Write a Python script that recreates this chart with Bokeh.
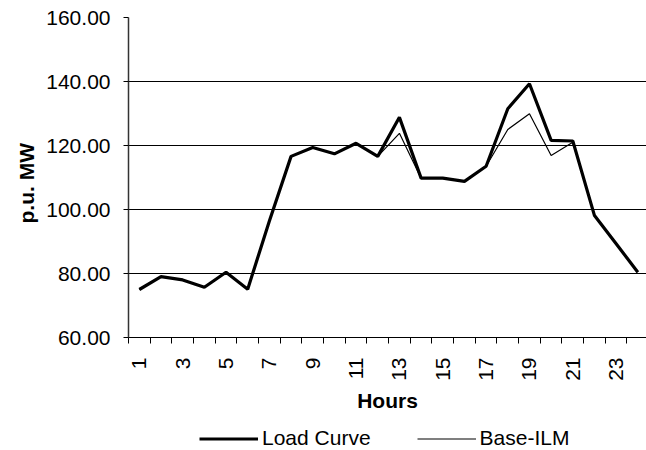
from bokeh.plotting import figure
from bokeh.layouts import column
from bokeh.models import (Range1d, FixedTicker, NumeralTickFormatter, Legend,
                          LegendItem, ColumnDataSource, Title)
from bokeh.embed import file_html
from bokeh.resources import INLINE
from math import pi

hours = list(range(1, 25))
load_curve = [75.0, 79.0, 78.0, 75.7, 80.4, 75.1, 96.4, 116.6, 119.4, 117.4,
              120.7, 116.6, 128.8, 109.8, 109.8, 108.8, 113.5, 131.5, 139.3,
              121.6, 121.4, 98.1, 89.3, 80.4]
base_ilm = [75.0, 79.0, 78.0, 75.7, 80.4, 75.1, 96.4, 116.6, 119.4, 117.4,
            120.7, 116.6, 123.8, 109.8, 109.8, 108.8, 113.5, 125.0, 129.9,
            116.9, 121.0, 98.1, 89.3, 80.4]
series_names = ["Load Curve", "Base-ILM"]
y_title = "p.u. MW"
x_title = "Hours"
y_ticks = [60, 80, 100, 120, 140, 160]
x_label_ticks = [1, 3, 5, 7, 9, 11, 13, 15, 17, 19, 21, 23]
x_boundaries = [h - 0.5 for h in hours] + [24.5]

FONT = "Liberation Sans"
FS = "21px"
W_LOAD = 3.2
W_BASE = 1.2

src = ColumnDataSource(dict(h=hours, load=load_curve, base=base_ilm))

p = figure(width=646, height=420, output_backend="svg", toolbar_location=None,
           x_range=Range1d(0.5, 24.4), y_range=Range1d(60, 160),
           min_border_left=128, min_border_right=0, min_border_top=17,
           min_border_bottom=83)
p.outline_line_color = None
p.background_fill_color = "white"
p.border_fill_color = "white"

p.line("h", "load", source=src, line_color="black", line_width=W_LOAD)
p.line("h", "base", source=src, line_color="black", line_width=W_BASE)

# grid
p.xgrid.visible = False
p.ygrid.ticker = FixedTicker(ticks=y_ticks)
p.ygrid.grid_line_color = "black"
p.ygrid.grid_line_width = 1

# y axis
ya = p.yaxis[0]
ya.ticker = FixedTicker(ticks=y_ticks)
ya.formatter = NumeralTickFormatter(format="0.00")
ya.axis_line_color = "#333333"
ya.axis_line_width = 1.5
ya.major_tick_out = 5
ya.major_tick_in = 0
ya.minor_tick_out = 0
ya.minor_tick_in = 0
ya.major_label_standoff = 13
ya.major_label_text_font = FONT
ya.major_label_text_font_size = FS
ya.major_label_text_color = "black"

# y axis title, placed slightly below the plot's middle as in the reference
yt = Title(text=y_title, align="left", offset=114, standoff=12,
           text_font=FONT, text_font_size=FS, text_font_style="bold",
           text_color="black")
p.add_layout(yt, "left")

# x axis
xa = p.xaxis[0]
xa.ticker = FixedTicker(ticks=x_label_ticks, minor_ticks=x_boundaries)
xa.axis_line_color = "black"
xa.axis_line_width = 1
xa.major_tick_out = 0
xa.major_tick_in = 0
xa.minor_tick_out = 6
xa.minor_tick_in = 0
xa.minor_tick_line_color = "black"
xa.major_label_orientation = pi / 2
xa.major_label_standoff = 14
xa.major_label_text_font = FONT
xa.major_label_text_font_size = FS
xa.major_label_text_color = "black"
xa.axis_label = x_title
xa.axis_label_text_font = FONT
xa.axis_label_text_font_size = FS
xa.axis_label_text_font_style = "bold"
xa.axis_label_text_color = "black"
xa.axis_label_standoff = 5

# legend strip below the chart (its renderers lie outside its own view)
pl = figure(width=646, height=30, output_backend="svg", toolbar_location=None,
            x_range=Range1d(-2, -1), y_range=Range1d(-2, -1),
            x_axis_type=None, y_axis_type=None,
            min_border_left=0, min_border_right=0, min_border_top=0,
            min_border_bottom=0)
pl.outline_line_color = None
pl.xgrid.visible = False
pl.ygrid.visible = False
lr1 = pl.line("h", "load", source=src, line_color="black", line_width=W_LOAD)
lr2 = pl.line("h", "base", source=src, line_color="black", line_width=W_BASE)
legend = Legend(items=[LegendItem(label=series_names[0], renderers=[lr1]),
                       LegendItem(label=series_names[1], renderers=[lr2])],
                location=(71, 0), orientation="horizontal",
                padding=0, margin=0, spacing=46, glyph_width=59,
                glyph_height=23, label_height=23, label_standoff=4,
                label_text_font=FONT, label_text_font_size=FS,
                label_text_color="black", border_line_color=None,
                background_fill_alpha=0)
pl.add_layout(legend)

open("out.html", "w").write(file_html(column(p, pl, spacing=0), INLINE))
